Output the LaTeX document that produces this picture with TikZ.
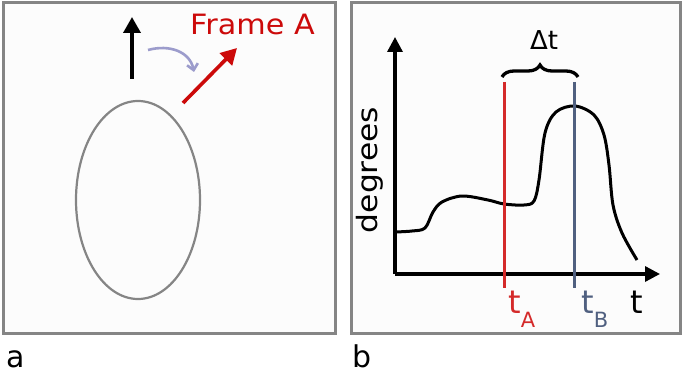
\documentclass[tikz,border=0pt]{standalone}
\usepackage{fontspec}
\setmainfont{DejaVu Sans}
\usetikzlibrary{arrows.meta,decorations.pathreplacing,shapes.geometric,positioning}
\definecolor{frameRed}{HTML}{CC0A0A}
\definecolor{markRed}{HTML}{D42A2A}
\definecolor{slateBlue}{HTML}{506080}
\definecolor{lilac}{HTML}{9C9CCC}
\definecolor{panelGray}{HTML}{858585}

\begin{document}
\begin{tikzpicture}[x=1pt,y=-1pt]
  \tikzset{
    panel box/.style={draw=panelGray, line width=3pt, fill=black!1},
    txt/.style={font=\fontsize{#1}{#1}\selectfont, inner sep=0pt},
    txt/.default=30,
    head arrow/.style={-{Triangle[length=16pt,width=17pt]}, line width=3.6pt, draw=#1},
    head arrow/.default=black,
    axis arrow/.style={-{Triangle[length=15pt,width=15pt]}, line width=3.3pt},
    mark line/.style={draw=#1, line width=3pt},
  }
  \newcommand{\subA}[1]{\raisebox{-14pt}{\fontsize{21}{21}\selectfont #1}}
  \useasboundingbox (0,0) rectangle (685,377);

  % painel a
  \draw[panel box] (3,3) rectangle (335,333);
  \node[ellipse, draw=panelGray, line width=2.2pt, minimum width=124pt,
        minimum height=198pt, inner sep=0pt] (cell) at (138,200) {};
  \coordinate (upBase) at (132,79);
  \coordinate (upTip) at (132,17);
  \draw[head arrow] (upBase) -- (upTip);
  \coordinate (rotStart) at (148,50);
  \coordinate (rotEnd) at (194,72);
  \draw[lilac, line width=2.6pt, -{Straight Barb[length=6pt,width=11pt]}]
    (rotStart) .. controls (170,44) and (190,52) .. (rotEnd);
  \coordinate (redBase) at (183,103);
  \coordinate (redTip) at (237,48);
  \draw[head arrow=frameRed] (redBase) -- (redTip);
  \node[txt=28, text=frameRed, anchor=base west, xscale=1.08] (frameA) at (190,35) {Frame A};
  \node[txt=30, anchor=base west] (labelA) at (6,367) {a};

  % painel b
  \draw[panel box] (351,3) rectangle (680,333);
  \coordinate (O) at (395,274);
  \coordinate (yTip) at (395,37);
  \coordinate (xTip) at (660,274);
  \draw[axis arrow] (O) -- (yTip);
  \draw[axis arrow] (O) -- (xTip);
  \draw[line width=3pt, line join=round] plot[smooth, tension=0.55] coordinates {
    (395,232) (412,231) (425,228) (433,212) (442,202) (462,196) (488,200)
    (504,204) (524,205) (534,201) (539,180) (545,133) (556,112) (575,106)
    (594,115) (604,135) (609,165) (613,205) (622,233) (637,260) };
  \coordinate (tAtop) at (504,82);
  \coordinate (tAbot) at (504,288);
  \coordinate (tBtop) at (574,82);
  \coordinate (tBbot) at (574,288);
  \draw[mark line=markRed] (tAtop) -- (tAbot);
  \draw[mark line=slateBlue] (tBtop) -- (tBbot);
  \draw[line width=3.3pt, decorate, decoration={brace, amplitude=12pt}]
    (502,77) -- (578,77);
  \node[txt=26, anchor=base] (dt) at (544,50) {Δt};
  \node[txt=28, rotate=90, xscale=1.12] (deg) at (370,170) {degrees};
  \node[txt=32, anchor=base] (tAxis) at (637,313) {t};
  \node[txt=32, text=markRed, anchor=base west] (tA) at (508,313) {t\subA{A}};
  \node[txt=32, text=slateBlue, anchor=base west] (tB) at (581,313) {t\subA{B}};
  \node[txt=30, anchor=base west] (labelB) at (352,367) {b};
\end{tikzpicture}
\end{document}
